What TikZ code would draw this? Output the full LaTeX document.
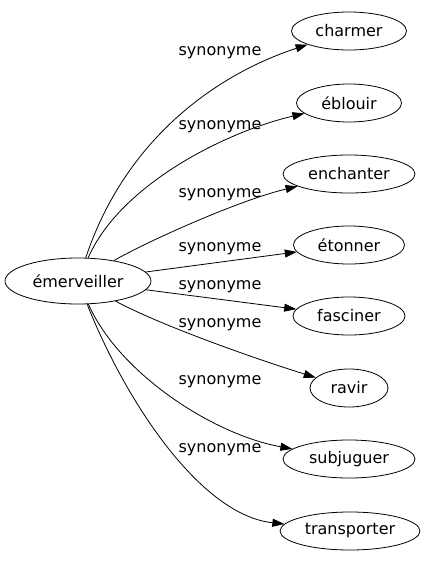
\documentclass[tikz,border=0pt]{standalone}
\usepackage{fontspec}
\setmainfont{DejaVu Sans}
\usetikzlibrary{arrows.meta,shapes.geometric}

\begin{document}
\begin{tikzpicture}[
  x=1pt, y=-1pt,
  word/.style={draw, ellipse, inner sep=0pt, minimum height=38pt,
               line width=0.8pt, font=\fontsize{16}{19}\selectfont},
  rel/.style={inner sep=0pt, font=\fontsize{16}{19}\selectfont},
  arr/.style={-{Triangle[length=12pt, width=8pt]}, line width=0.8pt}
]
\useasboundingbox (0,0) rectangle (425,563);
\node[word, minimum width=146pt, minimum height=46pt] (src) at (78,281) {émerveiller};
\node[word, minimum width=115pt] (charmer) at (349,31) {charmer};
\node[word, minimum width=105pt] (eblouir) at (349,103) {éblouir};
\node[word, minimum width=132pt] (enchanter) at (349,174) {enchanter};
\node[word, minimum width=111pt] (etonner) at (349,245) {étonner};
\node[word, minimum width=112pt] (fasciner) at (349,316) {fasciner};
\node[word, minimum width=78pt] (ravir) at (349,388) {ravir};
\node[word, minimum width=132pt] (subjuguer) at (349,459) {subjuguer};
\node[word, minimum width=140pt] (transporter) at (350,531) {transporter};
\draw[arr] (src) .. controls (125,140) and (215,75) .. (charmer);
\draw[arr] (src) .. controls (120,185) and (225,132) .. (eblouir);
\draw[arr] (src) .. controls (150,240) and (240,200) .. (enchanter);
\draw[arr] (src) -- (etonner);
\draw[arr] (src) -- (fasciner);
\draw[arr] (src) .. controls (160,325) and (250,357) .. (ravir);
\draw[arr] (src) .. controls (120,375) and (215,435) .. (subjuguer);
\draw[arr] (src) .. controls (125,400) and (200,515) .. (transporter);
\node[rel] (l1) at (220,53) {synonyme};
\node[rel] (l2) at (220,127) {synonyme};
\node[rel] (l3) at (220,195) {synonyme};
\node[rel] (l4) at (220,249) {synonyme};
\node[rel] (l5) at (220,287) {synonyme};
\node[rel] (l6) at (220,325) {synonyme};
\node[rel] (l7) at (220,382) {synonyme};
\node[rel] (l8) at (220,450) {synonyme};
\end{tikzpicture}
\end{document}
